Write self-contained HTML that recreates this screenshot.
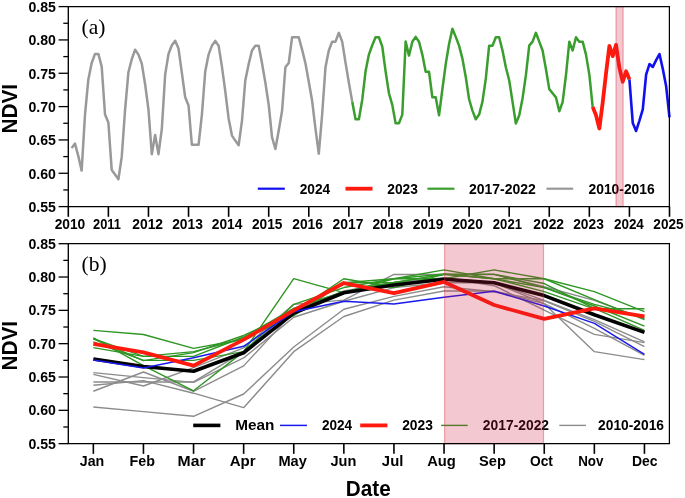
<!DOCTYPE html>
<html><head><meta charset="utf-8"><title>NDVI</title>
<style>html,body{margin:0;padding:0;background:#fff}svg{display:block}</style></head>
<body>
<svg width="685" height="498" viewBox="0 0 685 498">
<rect width="685" height="498" fill="#fff"/>
<g id="top">
<polyline points="71.64,148.13 74.98,143.60 78.32,156.13 81.66,170.60 85.00,114.60 88.34,79.40 91.68,63.00 95.02,53.93 98.36,53.93 101.70,66.60 105.04,114.60 108.38,122.60 111.72,169.93 115.06,174.60 118.40,179.27 121.74,156.93 125.08,109.93 128.42,72.20 131.76,59.27 135.10,49.67 138.44,54.60 141.78,63.67 145.12,84.20 148.46,109.60 151.80,154.20 155.14,134.93 158.48,154.20 161.82,128.80 165.16,74.60 168.50,53.93 171.84,45.27 175.18,40.80 178.52,48.60 181.86,72.93 185.20,97.27 188.54,105.53 191.88,144.87 195.22,144.87 198.56,144.87 201.90,114.60 205.24,71.40 208.58,54.60 211.92,45.67 215.26,40.87 218.60,45.67 221.94,66.60 225.28,91.40 228.62,118.40 231.96,135.60 235.30,140.60 238.64,145.27 241.98,120.80 245.32,80.20 248.66,64.13 252.00,50.47 255.34,45.67 258.68,45.67 262.02,63.33 265.36,82.60 268.70,104.73 272.04,137.27 275.38,148.93 278.72,130.47 282.06,110.87 285.40,67.27 288.74,63.00 292.08,37.33 295.42,37.33 298.76,37.33 302.10,49.67 305.44,63.27 308.78,81.80 312.12,100.73 315.46,128.60 318.80,153.73 322.14,114.60 325.48,67.27 328.82,50.47 332.16,41.67 335.50,41.67 338.84,32.80 342.18,41.67 345.52,62.60 348.86,82.60 352.20,101.53" fill="none" stroke="#999999" stroke-width="2.5" stroke-linejoin="round" />
<polyline points="352.20,101.53 355.54,119.27 358.88,119.27 362.22,99.93 365.56,71.27 368.90,54.60 372.24,45.27 375.58,37.27 378.92,37.27 382.26,46.47 385.60,71.40 388.94,93.27 392.28,104.87 395.62,123.27 398.96,123.27 402.30,114.60 405.64,41.60 408.98,55.60 412.32,41.67 415.66,36.87 419.00,41.67 422.34,54.60 425.68,71.73 429.02,71.73 432.36,97.27 435.70,97.27 439.04,115.27 442.38,89.27 445.72,64.13 449.06,44.07 452.40,28.80 455.74,36.87 459.08,45.67 462.42,58.60 465.76,77.00 469.10,99.27 472.44,110.60 475.78,119.27 479.12,114.60 482.46,101.67 485.80,78.60 489.14,45.67 492.48,45.67 495.82,37.27 499.16,37.27 502.50,50.47 505.84,67.27 509.18,80.20 512.52,101.67 515.86,123.60 519.20,115.53 522.54,98.40 525.88,75.40 529.22,45.67 532.56,41.67 535.90,32.80 539.24,41.67 542.58,50.47 545.92,68.93 549.26,89.13 552.60,93.27 555.94,97.40 559.28,111.27 562.62,102.13 565.96,75.27 569.30,41.67 572.64,50.47 575.98,37.27 579.32,41.67 582.66,41.67 586.00,54.60 589.34,74.60 592.68,106.87" fill="none" stroke="#3a9e2e" stroke-width="2.5" stroke-linejoin="round" />
<polyline points="629.42,79.40 632.76,122.93 636.10,130.93 639.44,120.60 642.78,109.27 646.12,74.60 649.46,64.13 652.80,66.87 656.14,60.07 659.48,54.13 662.82,68.93 666.16,86.27 669.50,117.33" fill="none" stroke="#1010f0" stroke-width="2.6" stroke-linejoin="round" />
<polyline points="592.68,106.87 596.02,115.27 599.36,128.53 602.70,102.60 606.04,73.27 609.38,45.93 612.72,56.13 616.06,44.87 619.40,67.93 622.74,81.80 626.08,71.27 629.42,79.40" fill="none" stroke="#ff1a0d" stroke-width="3.8" stroke-linejoin="round" />
</g>
<g id="bottom">
<polyline points="93.35,385.20 143.45,380.67 193.55,393.20 243.65,407.66 293.75,351.67 343.85,316.48 393.95,300.09 444.05,291.02 494.15,291.02 544.25,303.68 594.35,351.67 644.45,359.67" fill="none" stroke="#8c8c8c" stroke-width="1.4" stroke-linejoin="round" />
<polyline points="93.35,406.99 143.45,411.66 193.55,416.32 243.65,394.00 293.75,347.01 343.85,309.28 393.95,296.35 444.05,286.76 494.15,291.69 544.25,300.75 594.35,321.28 644.45,346.67" fill="none" stroke="#8c8c8c" stroke-width="1.4" stroke-linejoin="round" />
<polyline points="93.35,391.26 143.45,372.00 193.55,391.26 243.65,365.87 293.75,311.68 343.85,291.02 393.95,282.36 444.05,277.89 494.15,285.69 544.25,310.02 594.35,334.34 644.45,342.61" fill="none" stroke="#8c8c8c" stroke-width="1.4" stroke-linejoin="round" />
<polyline points="93.35,381.93 143.45,381.93 193.55,381.93 243.65,351.67 293.75,308.48 343.85,291.69 393.95,282.76 444.05,277.96 494.15,282.76 544.25,303.68 594.35,328.48 644.45,355.47" fill="none" stroke="#8c8c8c" stroke-width="1.4" stroke-linejoin="round" />
<polyline points="93.35,372.67 143.45,377.67 193.55,382.33 243.65,357.87 293.75,317.28 343.85,301.22 393.95,287.56 444.05,282.76 494.15,282.76 544.25,300.42 594.35,319.68 644.45,341.81" fill="none" stroke="#8c8c8c" stroke-width="1.4" stroke-linejoin="round" />
<polyline points="93.35,374.33 143.45,386.00 193.55,367.54 243.65,347.94 293.75,304.35 343.85,300.09 393.95,274.43 444.05,274.43 494.15,274.43 544.25,286.76 594.35,300.35 644.45,318.88" fill="none" stroke="#8c8c8c" stroke-width="1.4" stroke-linejoin="round" />
<polyline points="93.35,337.81 143.45,365.67 193.55,390.80 243.65,351.67 293.75,304.35 343.85,287.56 393.95,278.76 444.05,278.76 494.15,269.89 544.25,278.76 594.35,299.69 644.45,319.68" fill="none" stroke="#2f9624" stroke-width="1.4" stroke-linejoin="round" />
<polyline points="93.35,338.61 143.45,356.34 193.55,356.34 243.65,337.01 293.75,308.35 343.85,291.69 393.95,282.36 444.05,274.36 494.15,274.36 544.25,283.56 594.35,308.48 644.45,330.34" fill="none" stroke="#2f9624" stroke-width="1.4" stroke-linejoin="round" />
<polyline points="93.35,341.94 143.45,360.34 193.55,360.34 243.65,351.67 293.75,278.69 343.85,292.69 393.95,278.76 444.05,273.96 494.15,278.76 544.25,291.69 594.35,308.82 644.45,308.82" fill="none" stroke="#2f9624" stroke-width="1.4" stroke-linejoin="round" />
<polyline points="93.35,347.67 143.45,356.34 193.55,351.67 243.65,338.74 293.75,315.68 343.85,282.76 393.95,282.76 444.05,274.36 494.15,274.36 544.25,287.56 594.35,304.35 644.45,317.28" fill="none" stroke="#2f9624" stroke-width="1.4" stroke-linejoin="round" />
<polyline points="93.35,338.74 143.45,360.67 193.55,352.61 243.65,335.48 293.75,312.48 343.85,282.76 393.95,278.76 444.05,269.89 494.15,278.76 544.25,287.56 594.35,306.02 644.45,326.21" fill="none" stroke="#2f9624" stroke-width="1.4" stroke-linejoin="round" />
<polyline points="93.35,330.34 143.45,334.48 193.55,348.34 243.65,339.21 293.75,312.35 343.85,278.76 393.95,287.56 444.05,274.36 494.15,278.76 544.25,278.76 594.35,291.69 644.45,311.68" fill="none" stroke="#2f9624" stroke-width="1.4" stroke-linejoin="round" />
<polyline points="93.35,359.05 143.45,366.56 193.55,371.22 243.65,352.74 293.75,313.04 343.85,292.76 393.95,285.04 444.05,279.30 494.15,282.81 544.25,295.58 594.35,314.71 644.45,332.42" fill="none" stroke="#000" stroke-width="3.6" stroke-linejoin="round" />
<polyline points="93.35,360.00 143.45,368.00 193.55,357.67 243.65,346.34 293.75,311.68 343.85,301.22 393.95,303.95 444.05,297.15 494.15,291.22 544.25,306.02 594.35,323.35 644.45,354.41" fill="none" stroke="#1a1aee" stroke-width="1.5" stroke-linejoin="round" />
<polyline points="93.35,343.94 143.45,352.34 193.55,365.60 243.65,339.68 293.75,310.35 343.85,283.02 393.95,293.22 444.05,281.96 494.15,305.02 544.25,318.88 594.35,308.35 644.45,316.48" fill="none" stroke="#ff1a0d" stroke-width="3.8" stroke-linejoin="round" />
</g>
<g id="legend-b"></g>
<line x1="68.30" y1="206.60" x2="68.30" y2="216.80" stroke="#000" stroke-width="1.6"/>
<text x="54.65" y="229.10" font-size="14.8" textLength="30.59" lengthAdjust="spacingAndGlyphs" font-family="Liberation Sans, Arial, sans-serif" font-weight="bold">2010</text>
<line x1="108.38" y1="206.60" x2="108.38" y2="216.80" stroke="#000" stroke-width="1.6"/>
<text x="93.01" y="229.10" font-size="14.8" textLength="27.85" lengthAdjust="spacingAndGlyphs" font-family="Liberation Sans, Arial, sans-serif" font-weight="bold">2011</text>
<line x1="148.46" y1="206.60" x2="148.46" y2="216.80" stroke="#000" stroke-width="1.6"/>
<text x="132.26" y="229.10" font-size="14.8" textLength="30.81" lengthAdjust="spacingAndGlyphs" font-family="Liberation Sans, Arial, sans-serif" font-weight="bold">2012</text>
<line x1="188.54" y1="206.60" x2="188.54" y2="216.80" stroke="#000" stroke-width="1.6"/>
<text x="172.16" y="229.10" font-size="14.8" textLength="30.72" lengthAdjust="spacingAndGlyphs" font-family="Liberation Sans, Arial, sans-serif" font-weight="bold">2013</text>
<line x1="228.62" y1="206.60" x2="228.62" y2="216.80" stroke="#000" stroke-width="1.6"/>
<text x="211.82" y="229.10" font-size="14.8" textLength="30.61" lengthAdjust="spacingAndGlyphs" font-family="Liberation Sans, Arial, sans-serif" font-weight="bold">2014</text>
<line x1="268.70" y1="206.60" x2="268.70" y2="216.80" stroke="#000" stroke-width="1.6"/>
<text x="251.89" y="229.10" font-size="14.8" textLength="30.51" lengthAdjust="spacingAndGlyphs" font-family="Liberation Sans, Arial, sans-serif" font-weight="bold">2015</text>
<line x1="308.78" y1="206.60" x2="308.78" y2="216.80" stroke="#000" stroke-width="1.6"/>
<text x="292.26" y="229.10" font-size="14.8" textLength="30.60" lengthAdjust="spacingAndGlyphs" font-family="Liberation Sans, Arial, sans-serif" font-weight="bold">2016</text>
<line x1="348.86" y1="206.60" x2="348.86" y2="216.80" stroke="#000" stroke-width="1.6"/>
<text x="332.55" y="229.10" font-size="14.8" textLength="30.87" lengthAdjust="spacingAndGlyphs" font-family="Liberation Sans, Arial, sans-serif" font-weight="bold">2017</text>
<line x1="388.94" y1="206.60" x2="388.94" y2="216.80" stroke="#000" stroke-width="1.6"/>
<text x="372.42" y="229.10" font-size="14.8" textLength="30.69" lengthAdjust="spacingAndGlyphs" font-family="Liberation Sans, Arial, sans-serif" font-weight="bold">2018</text>
<line x1="429.02" y1="206.60" x2="429.02" y2="216.80" stroke="#000" stroke-width="1.6"/>
<text x="412.76" y="229.10" font-size="14.8" textLength="30.59" lengthAdjust="spacingAndGlyphs" font-family="Liberation Sans, Arial, sans-serif" font-weight="bold">2019</text>
<line x1="469.10" y1="206.60" x2="469.10" y2="216.80" stroke="#000" stroke-width="1.6"/>
<text x="452.16" y="229.10" font-size="14.8" textLength="30.65" lengthAdjust="spacingAndGlyphs" font-family="Liberation Sans, Arial, sans-serif" font-weight="bold">2020</text>
<line x1="509.18" y1="206.60" x2="509.18" y2="216.80" stroke="#000" stroke-width="1.6"/>
<text x="492.83" y="229.10" font-size="14.8" textLength="29.11" lengthAdjust="spacingAndGlyphs" font-family="Liberation Sans, Arial, sans-serif" font-weight="bold">2021</text>
<line x1="549.26" y1="206.60" x2="549.26" y2="216.80" stroke="#000" stroke-width="1.6"/>
<text x="533.26" y="229.10" font-size="14.8" textLength="30.81" lengthAdjust="spacingAndGlyphs" font-family="Liberation Sans, Arial, sans-serif" font-weight="bold">2022</text>
<line x1="589.34" y1="206.60" x2="589.34" y2="216.80" stroke="#000" stroke-width="1.6"/>
<text x="573.15" y="229.10" font-size="14.8" textLength="30.68" lengthAdjust="spacingAndGlyphs" font-family="Liberation Sans, Arial, sans-serif" font-weight="bold">2023</text>
<line x1="629.42" y1="206.60" x2="629.42" y2="216.80" stroke="#000" stroke-width="1.6"/>
<text x="613.92" y="229.10" font-size="14.8" textLength="29.95" lengthAdjust="spacingAndGlyphs" font-family="Liberation Sans, Arial, sans-serif" font-weight="bold">2024</text>
<line x1="669.50" y1="206.60" x2="669.50" y2="216.80" stroke="#000" stroke-width="1.6"/>
<text x="653.33" y="229.10" font-size="14.8" textLength="30.20" lengthAdjust="spacingAndGlyphs" font-family="Liberation Sans, Arial, sans-serif" font-weight="bold">2025</text>
<line x1="93.35" y1="443.65" x2="93.35" y2="453.85" stroke="#000" stroke-width="1.6"/>
<text x="79.78" y="466.20" font-size="14.8" textLength="24.47" lengthAdjust="spacingAndGlyphs" font-family="Liberation Sans, Arial, sans-serif" font-weight="bold">Jan</text>
<line x1="143.45" y1="443.65" x2="143.45" y2="453.85" stroke="#000" stroke-width="1.6"/>
<text x="129.54" y="466.20" font-size="14.8" textLength="25.39" lengthAdjust="spacingAndGlyphs" font-family="Liberation Sans, Arial, sans-serif" font-weight="bold">Feb</text>
<line x1="193.55" y1="443.65" x2="193.55" y2="453.85" stroke="#000" stroke-width="1.6"/>
<text x="177.58" y="466.20" font-size="14.8" textLength="28.03" lengthAdjust="spacingAndGlyphs" font-family="Liberation Sans, Arial, sans-serif" font-weight="bold">Mar</text>
<line x1="243.65" y1="443.65" x2="243.65" y2="453.85" stroke="#000" stroke-width="1.6"/>
<text x="229.69" y="466.20" font-size="14.8" textLength="25.95" lengthAdjust="spacingAndGlyphs" font-family="Liberation Sans, Arial, sans-serif" font-weight="bold">Apr</text>
<line x1="293.75" y1="443.65" x2="293.75" y2="453.85" stroke="#000" stroke-width="1.6"/>
<text x="278.46" y="466.20" font-size="14.8" textLength="28.40" lengthAdjust="spacingAndGlyphs" font-family="Liberation Sans, Arial, sans-serif" font-weight="bold">May</text>
<line x1="343.85" y1="443.65" x2="343.85" y2="453.85" stroke="#000" stroke-width="1.6"/>
<text x="330.52" y="466.20" font-size="14.8" textLength="25.91" lengthAdjust="spacingAndGlyphs" font-family="Liberation Sans, Arial, sans-serif" font-weight="bold">Jun</text>
<line x1="393.95" y1="443.65" x2="393.95" y2="453.85" stroke="#000" stroke-width="1.6"/>
<text x="381.88" y="466.20" font-size="14.8" textLength="21.46" lengthAdjust="spacingAndGlyphs" font-family="Liberation Sans, Arial, sans-serif" font-weight="bold">Jul</text>
<line x1="444.05" y1="443.65" x2="444.05" y2="453.85" stroke="#000" stroke-width="1.6"/>
<text x="427.16" y="466.20" font-size="14.8" textLength="28.67" lengthAdjust="spacingAndGlyphs" font-family="Liberation Sans, Arial, sans-serif" font-weight="bold">Aug</text>
<line x1="494.15" y1="443.65" x2="494.15" y2="453.85" stroke="#000" stroke-width="1.6"/>
<text x="479.08" y="466.20" font-size="14.8" textLength="26.85" lengthAdjust="spacingAndGlyphs" font-family="Liberation Sans, Arial, sans-serif" font-weight="bold">Sep</text>
<line x1="544.25" y1="443.65" x2="544.25" y2="453.85" stroke="#000" stroke-width="1.6"/>
<text x="529.97" y="466.20" font-size="14.8" textLength="22.90" lengthAdjust="spacingAndGlyphs" font-family="Liberation Sans, Arial, sans-serif" font-weight="bold">Oct</text>
<line x1="594.35" y1="443.65" x2="594.35" y2="453.85" stroke="#000" stroke-width="1.6"/>
<text x="578.17" y="466.20" font-size="14.8" textLength="25.28" lengthAdjust="spacingAndGlyphs" font-family="Liberation Sans, Arial, sans-serif" font-weight="bold">Nov</text>
<line x1="644.45" y1="443.65" x2="644.45" y2="453.85" stroke="#000" stroke-width="1.6"/>
<text x="632.03" y="466.20" font-size="14.8" textLength="25.61" lengthAdjust="spacingAndGlyphs" font-family="Liberation Sans, Arial, sans-serif" font-weight="bold">Dec</text>
<text transform="translate(17.3,108.70) rotate(-90) scale(0.98,1)" text-anchor="middle" font-size="21.2" font-family="Liberation Sans, Arial, sans-serif" font-weight="bold">NDVI</text>
<text transform="translate(17.3,345.77) rotate(-90) scale(0.98,1)" text-anchor="middle" font-size="21.2" font-family="Liberation Sans, Arial, sans-serif" font-weight="bold">NDVI</text>
<text transform="translate(368.30,496.30) scale(0.95,1)" text-anchor="middle" font-size="21.8" font-family="Liberation Sans, Arial, sans-serif" font-weight="bold" >Date</text>
<text transform="translate(81.6,34.2) scale(0.98,1)" font-size="22" font-family="Liberation Serif, Times New Roman, serif">(a)</text>
<text transform="translate(81.6,270.9) scale(0.98,1)" font-size="22" font-family="Liberation Serif, Times New Roman, serif">(b)</text>
<line x1="257.80" y1="188.70" x2="284.80" y2="188.70" stroke="#1010f0" stroke-width="2.2"/>
<text x="299.67" y="194.00" font-size="14.8" textLength="30.50" lengthAdjust="spacingAndGlyphs" font-family="Liberation Sans, Arial, sans-serif" font-weight="bold">2024</text>
<line x1="345.50" y1="188.70" x2="372.50" y2="188.70" stroke="#ff1a0d" stroke-width="3.8"/>
<text x="387.30" y="194.00" font-size="14.8" textLength="30.64" lengthAdjust="spacingAndGlyphs" font-family="Liberation Sans, Arial, sans-serif" font-weight="bold">2023</text>
<line x1="427.40" y1="188.70" x2="454.40" y2="188.70" stroke="#3a9e2e" stroke-width="2.2"/>
<text x="468.97" y="194.00" font-size="14.8" textLength="66.91" lengthAdjust="spacingAndGlyphs" font-family="Liberation Sans, Arial, sans-serif" font-weight="bold">2017-2022</text>
<line x1="546.50" y1="188.70" x2="573.20" y2="188.70" stroke="#999999" stroke-width="2.2"/>
<text x="588.49" y="194.00" font-size="14.8" textLength="66.25" lengthAdjust="spacingAndGlyphs" font-family="Liberation Sans, Arial, sans-serif" font-weight="bold">2010-2016</text>
<line x1="193.20" y1="425.40" x2="220.40" y2="425.40" stroke="#000" stroke-width="3.6"/>
<text x="235.23" y="430.40" font-size="14.8" textLength="39.11" lengthAdjust="spacingAndGlyphs" font-family="Liberation Sans, Arial, sans-serif" font-weight="bold">Mean</text>
<line x1="280.00" y1="425.40" x2="307.00" y2="425.40" stroke="#1a1aee" stroke-width="1.5"/>
<text x="321.95" y="430.40" font-size="14.8" textLength="30.19" lengthAdjust="spacingAndGlyphs" font-family="Liberation Sans, Arial, sans-serif" font-weight="bold">2024</text>
<line x1="360.20" y1="425.40" x2="387.40" y2="425.40" stroke="#ff1a0d" stroke-width="3.8"/>
<text x="402.13" y="430.40" font-size="14.8" textLength="30.70" lengthAdjust="spacingAndGlyphs" font-family="Liberation Sans, Arial, sans-serif" font-weight="bold">2023</text>
<line x1="441.10" y1="425.40" x2="467.70" y2="425.40" stroke="#2f9624" stroke-width="1.4"/>
<text x="482.87" y="430.40" font-size="14.8" textLength="66.17" lengthAdjust="spacingAndGlyphs" font-family="Liberation Sans, Arial, sans-serif" font-weight="bold">2017-2022</text>
<line x1="559.30" y1="425.40" x2="586.00" y2="425.40" stroke="#8c8c8c" stroke-width="1.4"/>
<text x="598.06" y="430.40" font-size="14.8" textLength="65.93" lengthAdjust="spacingAndGlyphs" font-family="Liberation Sans, Arial, sans-serif" font-weight="bold">2010-2016</text>
<rect x="616.00" y="6.60" width="7.10" height="200.00" fill="#cd1e3c" fill-opacity="0.245" stroke="#d8283c" stroke-opacity="0.38" stroke-width="1.2"/>
<rect x="444.60" y="243.70" width="98.90" height="199.95" fill="#cd1e3c" fill-opacity="0.245" stroke="#d8283c" stroke-opacity="0.38" stroke-width="1.2"/>
<line x1="67.60" y1="6.60" x2="670.10" y2="6.60" stroke="#000" stroke-width="1.2"/>
<line x1="67.60" y1="206.60" x2="670.10" y2="206.60" stroke="#000" stroke-width="1.2"/>
<line x1="68.30" y1="6.60" x2="68.30" y2="206.60" stroke="#000" stroke-width="1.35"/>
<line x1="669.40" y1="6.60" x2="669.40" y2="206.60" stroke="#000" stroke-width="1.25"/>
<line x1="58.60" y1="6.60" x2="68.30" y2="6.60" stroke="#000" stroke-width="1.3"/>
<text transform="translate(55.95,11.95) scale(0.955,1)" text-anchor="end" font-size="14.8" font-family="Liberation Sans, Arial, sans-serif" font-weight="bold" >0.85</text>
<line x1="63.30" y1="23.27" x2="68.30" y2="23.27" stroke="#000" stroke-width="1.3"/>
<line x1="58.60" y1="39.93" x2="68.30" y2="39.93" stroke="#000" stroke-width="1.3"/>
<text transform="translate(55.95,45.28) scale(0.955,1)" text-anchor="end" font-size="14.8" font-family="Liberation Sans, Arial, sans-serif" font-weight="bold" >0.80</text>
<line x1="63.30" y1="56.60" x2="68.30" y2="56.60" stroke="#000" stroke-width="1.3"/>
<line x1="58.60" y1="73.27" x2="68.30" y2="73.27" stroke="#000" stroke-width="1.3"/>
<text transform="translate(55.95,78.62) scale(0.955,1)" text-anchor="end" font-size="14.8" font-family="Liberation Sans, Arial, sans-serif" font-weight="bold" >0.75</text>
<line x1="63.30" y1="89.93" x2="68.30" y2="89.93" stroke="#000" stroke-width="1.3"/>
<line x1="58.60" y1="106.60" x2="68.30" y2="106.60" stroke="#000" stroke-width="1.3"/>
<text transform="translate(55.95,111.95) scale(0.955,1)" text-anchor="end" font-size="14.8" font-family="Liberation Sans, Arial, sans-serif" font-weight="bold" >0.70</text>
<line x1="63.30" y1="123.27" x2="68.30" y2="123.27" stroke="#000" stroke-width="1.3"/>
<line x1="58.60" y1="139.93" x2="68.30" y2="139.93" stroke="#000" stroke-width="1.3"/>
<text transform="translate(55.95,145.28) scale(0.955,1)" text-anchor="end" font-size="14.8" font-family="Liberation Sans, Arial, sans-serif" font-weight="bold" >0.65</text>
<line x1="63.30" y1="156.60" x2="68.30" y2="156.60" stroke="#000" stroke-width="1.3"/>
<line x1="58.60" y1="173.27" x2="68.30" y2="173.27" stroke="#000" stroke-width="1.3"/>
<text transform="translate(55.95,178.62) scale(0.955,1)" text-anchor="end" font-size="14.8" font-family="Liberation Sans, Arial, sans-serif" font-weight="bold" >0.60</text>
<line x1="63.30" y1="189.93" x2="68.30" y2="189.93" stroke="#000" stroke-width="1.3"/>
<line x1="58.60" y1="206.60" x2="68.30" y2="206.60" stroke="#000" stroke-width="1.3"/>
<text transform="translate(55.95,211.95) scale(0.955,1)" text-anchor="end" font-size="14.8" font-family="Liberation Sans, Arial, sans-serif" font-weight="bold" >0.55</text>
<line x1="67.60" y1="243.70" x2="670.10" y2="243.70" stroke="#000" stroke-width="1.2"/>
<line x1="67.60" y1="443.65" x2="670.10" y2="443.65" stroke="#000" stroke-width="1.2"/>
<line x1="68.30" y1="243.70" x2="68.30" y2="443.65" stroke="#000" stroke-width="1.35"/>
<line x1="669.40" y1="243.70" x2="669.40" y2="443.65" stroke="#000" stroke-width="1.25"/>
<line x1="58.60" y1="243.70" x2="68.30" y2="243.70" stroke="#000" stroke-width="1.3"/>
<text transform="translate(55.95,248.70) scale(0.955,1)" text-anchor="end" font-size="14.8" font-family="Liberation Sans, Arial, sans-serif" font-weight="bold" >0.85</text>
<line x1="63.30" y1="260.36" x2="68.30" y2="260.36" stroke="#000" stroke-width="1.3"/>
<line x1="58.60" y1="277.02" x2="68.30" y2="277.02" stroke="#000" stroke-width="1.3"/>
<text transform="translate(55.95,282.02) scale(0.955,1)" text-anchor="end" font-size="14.8" font-family="Liberation Sans, Arial, sans-serif" font-weight="bold" >0.80</text>
<line x1="63.30" y1="293.69" x2="68.30" y2="293.69" stroke="#000" stroke-width="1.3"/>
<line x1="58.60" y1="310.35" x2="68.30" y2="310.35" stroke="#000" stroke-width="1.3"/>
<text transform="translate(55.95,315.35) scale(0.955,1)" text-anchor="end" font-size="14.8" font-family="Liberation Sans, Arial, sans-serif" font-weight="bold" >0.75</text>
<line x1="63.30" y1="327.01" x2="68.30" y2="327.01" stroke="#000" stroke-width="1.3"/>
<line x1="58.60" y1="343.67" x2="68.30" y2="343.67" stroke="#000" stroke-width="1.3"/>
<text transform="translate(55.95,348.67) scale(0.955,1)" text-anchor="end" font-size="14.8" font-family="Liberation Sans, Arial, sans-serif" font-weight="bold" >0.70</text>
<line x1="63.30" y1="360.34" x2="68.30" y2="360.34" stroke="#000" stroke-width="1.3"/>
<line x1="58.60" y1="377.00" x2="68.30" y2="377.00" stroke="#000" stroke-width="1.3"/>
<text transform="translate(55.95,382.00) scale(0.955,1)" text-anchor="end" font-size="14.8" font-family="Liberation Sans, Arial, sans-serif" font-weight="bold" >0.65</text>
<line x1="63.30" y1="393.66" x2="68.30" y2="393.66" stroke="#000" stroke-width="1.3"/>
<line x1="58.60" y1="410.32" x2="68.30" y2="410.32" stroke="#000" stroke-width="1.3"/>
<text transform="translate(55.95,415.32) scale(0.955,1)" text-anchor="end" font-size="14.8" font-family="Liberation Sans, Arial, sans-serif" font-weight="bold" >0.60</text>
<line x1="63.30" y1="426.99" x2="68.30" y2="426.99" stroke="#000" stroke-width="1.3"/>
<line x1="58.60" y1="443.65" x2="68.30" y2="443.65" stroke="#000" stroke-width="1.3"/>
<text transform="translate(55.95,448.65) scale(0.955,1)" text-anchor="end" font-size="14.8" font-family="Liberation Sans, Arial, sans-serif" font-weight="bold" >0.55</text>
</svg>
</body></html>
